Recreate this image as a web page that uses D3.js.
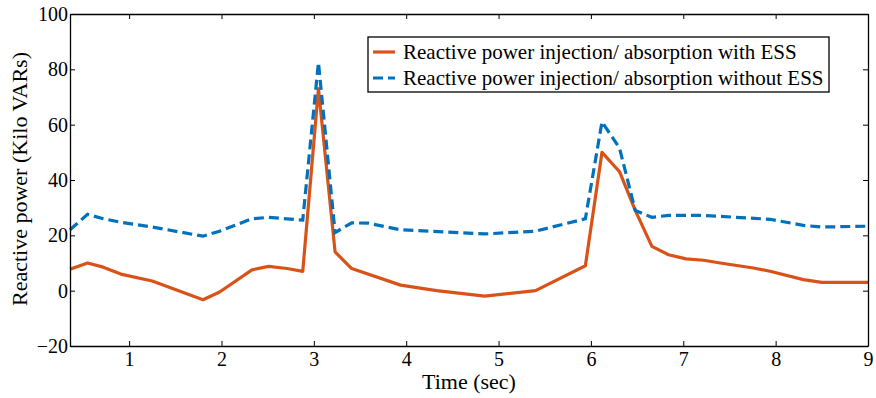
<!DOCTYPE html>
<html>
<head>
<meta charset="utf-8">
<script src="https://cdn.jsdelivr.net/npm/d3@7"></script>
<style>
  body { margin: 0; background: #fff; }
</style>
</head>
<body>
<div id="chart"></div>
<script>
// time samples (sec) and the two series
var timeWith = [0.36, 0.55, 0.72, 0.91, 1.25, 1.8, 1.98, 2.33, 2.51, 2.71, 2.88, 3.05, 3.23, 3.41, 3.94, 4.33, 4.85, 5.4, 5.94, 6.12, 6.31, 6.48, 6.66, 6.84, 7.03, 7.22, 7.4, 7.76, 7.94, 8.3, 8.5, 9.0];
var qWithEss = [7.7, 10, 8.5, 6, 3.5, -3.3, -0.5, 7.5, 8.8, 8, 7, 73, 14, 8, 2, 0, -2, 0, 9, 50, 43, 29, 16, 13, 11.5, 11, 10, 8.2, 7, 4, 3, 3];

var timeWithout = [0.36, 0.55, 0.72, 0.91, 1.25, 1.8, 1.98, 2.33, 2.51, 2.88, 3.05, 3.23, 3.41, 3.59, 3.94, 4.85, 5.4, 5.94, 6.12, 6.31, 6.48, 6.66, 6.84, 7.22, 7.94, 8.3, 8.5, 9.0];
var qWithoutEss = [22, 27.6, 26, 24.7, 23, 19.7, 21.5, 26, 26.5, 25.5, 82.5, 21, 24.5, 24.4, 22, 20.5, 21.5, 26, 61, 51.5, 29, 26.5, 27.2, 27.2, 25.8, 23.6, 23, 23.3];

var xTicks = [1, 2, 3, 4, 5, 6, 7, 8, 9];
var yTicks = [-20, 0, 20, 40, 60, 80, 100];
var seriesNames = ["Reactive power injection/ absorption with ESS", "Reactive power injection/ absorption without ESS"];

var serif = "Liberation Serif";
var width = 876, height = 398;
var margin = {left: 70, top: 14, right: 8, bottom: 52};

var svg = d3.select("#chart").append("svg")
    .attr("width", width)
    .attr("height", height);

var x = d3.scaleLinear().domain([0.36, 9]).range([margin.left, width - margin.right]);
var y = d3.scaleLinear().domain([-20, 100]).range([height - margin.bottom, margin.top]);

var line = d3.line()
    .x(function(d){ return x(d[0]); })
    .y(function(d){ return y(d[1]); });

var redData = d3.zip(timeWith, qWithEss);
var blueData = d3.zip(timeWithout, qWithoutEss);

svg.append("path").datum(redData)
    .attr("d", line)
    .attr("fill", "none")
    .attr("stroke", "#D95319")
    .attr("stroke-width", 3.2)
    .attr("stroke-linejoin", "round");

svg.append("path").datum(blueData)
    .attr("d", line)
    .attr("fill", "none")
    .attr("stroke", "#0072BD")
    .attr("stroke-width", 3.2)
    .attr("stroke-dasharray", "10,5");

// axes, ticks inside, mirrored
var tickLen = 5;
function serifTicks(g) {
  g.selectAll("text")
    .style("font-family", serif)
    .style("font-size", "20px")
    .attr("fill", "#000");
}
svg.append("g")
    .attr("transform", "translate(0," + y(-20) + ")")
    .call(d3.axisBottom(x).tickValues(xTicks).tickSizeInner(-tickLen).tickSizeOuter(0).tickPadding(6).tickFormat(d3.format("d")))
    .call(serifTicks);
svg.append("g")
    .attr("transform", "translate(0," + y(100) + ")")
    .call(d3.axisTop(x).tickValues(xTicks).tickSizeInner(-tickLen).tickSizeOuter(0).tickFormat(""));
svg.append("g")
    .attr("transform", "translate(" + x(0.36) + ",0)")
    .call(d3.axisLeft(y).tickValues(yTicks).tickSizeInner(-tickLen).tickSizeOuter(0).tickPadding(2).tickFormat(d3.format("d")))
    .call(serifTicks);
svg.append("g")
    .attr("transform", "translate(" + x(9) + ",0)")
    .call(d3.axisRight(y).tickValues(yTicks).tickSizeInner(-tickLen).tickSizeOuter(0).tickFormat(""));

svg.selectAll(".domain").attr("stroke", "#000").attr("stroke-width", 1.3);
svg.selectAll(".tick line").attr("stroke", "#000");

svg.append("text")
    .attr("x", (x(0.36) + x(9)) / 2)
    .attr("y", 389)
    .attr("text-anchor", "middle")
    .style("font-family", serif)
    .style("font-size", "22px")
    .text("Time (sec)");

svg.append("text")
    .attr("transform", "translate(27,179) rotate(-90)")
    .attr("text-anchor", "middle")
    .style("font-family", serif)
    .style("font-size", "22px")
    .text("Reactive power (Kilo VARs)");

// legend
var lg = svg.append("g").attr("transform", "translate(368,37)");
lg.append("rect")
    .attr("width", 461).attr("height", 55)
    .attr("fill", "#fff").attr("stroke", "#000").attr("stroke-width", 1.3);
var colors = ["#D95319", "#0072BD"];
seriesNames.forEach(function(name, i){
  var yy = 15 + i * 26;
  lg.append("line")
    .attr("x1", 5).attr("x2", 27).attr("y1", yy).attr("y2", yy)
    .attr("stroke", colors[i]).attr("stroke-width", 3.2)
    .attr("stroke-dasharray", i === 1 ? "10,5" : null);
  lg.append("text")
    .attr("x", 35).attr("y", yy + 7)
    .style("font-family", serif)
    .style("font-size", "21px")
    .text(name);
});
</script>
</body>
</html>
